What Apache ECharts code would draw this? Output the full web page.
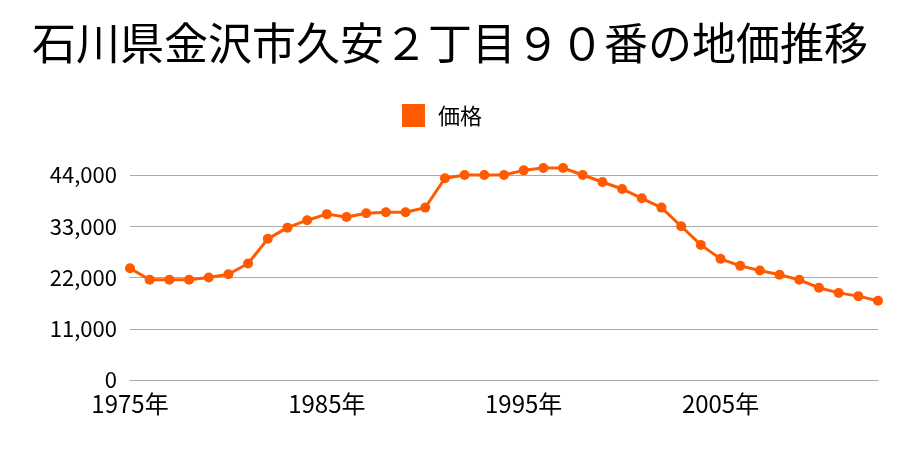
<!DOCTYPE html>
<html><head><meta charset="utf-8">
<script src="https://cdn.jsdelivr.net/npm/echarts@6/dist/echarts.min.js"></script>
<style>html,body{margin:0;padding:0;background:#fff}#c{width:900px;height:450px}</style>
</head><body><div id="c"></div>
<script>
const years = [1975,1976,1977,1978,1979,1980,1981,1982,1983,1984,1985,1986,1987,1988,1989,1990,1991,1992,1993,1994,1995,1996,1997,1998,1999,2000,2001,2002,2003,2004,2005,2006,2007,2008,2009,2010,2011,2012,2013];
const prices = [24000,21500,21500,21500,22000,22700,25000,30300,32700,34300,35600,35000,35800,36000,36000,37000,43300,44000,44000,44000,45000,45500,45500,44000,42500,41000,39000,37000,33000,29000,26000,24500,23500,22600,21500,19800,18700,18000,17000];
const yTicks = [0,11000,22000,33000,44000];
const categories = years.map(y => y + '年');
const chart = echarts.init(document.getElementById('c'));
chart.setOption({
  animation:false,
  title:{text:'石川県金沢市久安２丁目９０番の地価推移',left:'center',top:16,textStyle:{fontFamily:'Noto Sans CJK JP',fontSize:44,fontWeight:'normal',color:'#000'}},
  legend:{top:99,left:397,itemWidth:23,itemHeight:23,icon:'rect',itemGap:10,textStyle:{fontFamily:'Noto Sans CJK JP',fontSize:22,color:'#000',padding:[0,0,0,8]},data:['価格']},
  grid:{left:130,right:22,top:175,bottom:70},
  xAxis:{type:'category',data:categories,boundaryGap:false,
    axisLine:{lineStyle:{color:'#aaa'}},axisTick:{show:false},
    axisLabel:{interval:9,color:'#000',fontSize:24,fontFamily:'Noto Sans CJK JP',margin:12}},
  yAxis:{type:'value',min:0,max:yTicks[yTicks.length-1],interval:11000,
    axisLine:{show:false},axisTick:{show:false},
    splitLine:{lineStyle:{color:'#aaa'}},
    axisLabel:{color:'#000',fontSize:22,fontFamily:'Noto Sans CJK JP',margin:13,
      formatter:v=>v.toLocaleString('en-US')}},
  series:[{name:'価格',type:'line',data:prices,clip:false,symbol:'circle',symbolSize:10,
    itemStyle:{color:'#ff5a00'},lineStyle:{color:'#ff5a00',width:3}}]
});
</script></body></html>
